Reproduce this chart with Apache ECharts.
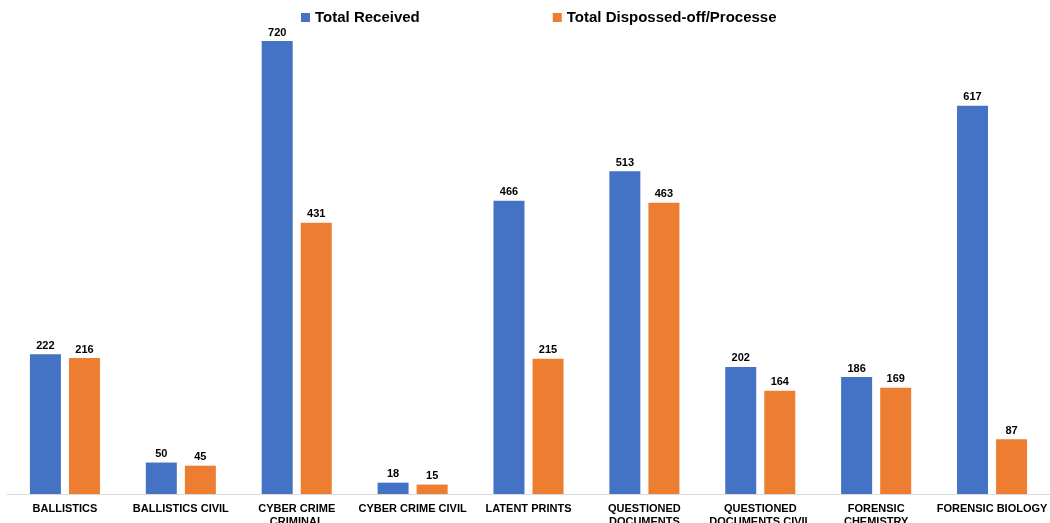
<!DOCTYPE html>
<html>
<head>
<meta charset="utf-8">
<script src="https://cdn.jsdelivr.net/npm/echarts@6/dist/echarts.min.js"></script>
<style>
  html, body { margin: 0; padding: 0; background: #fff; overflow: hidden; }
  #chart { width: 1050px; height: 523px; }
</style>
</head>
<body>
<div id="chart"></div>
<script>
// Categories (line breaks follow the wrapped labels in the reference)
const categories = [
    'BALLISTICS',
    'BALLISTICS CIVIL',
    'CYBER CRIME\nCRIMINAL',
    'CYBER CRIME CIVIL',
    'LATENT PRINTS',
    'QUESTIONED\nDOCUMENTS',
    'QUESTIONED\nDOCUMENTS CIVIL',
    'FORENSIC\nCHEMISTRY',
    'FORENSIC BIOLOGY'
];
const totalReceived = [222, 50, 720, 18, 466, 513, 202, 186, 617];
const totalProcessed = [216, 45, 431, 15, 215, 463, 164, 169, 87];

const font = 'Liberation Sans, Arial, sans-serif';

const labelStyle = {
    show: true,
    position: 'top',
    distance: 3,
    color: '#000',
    fontFamily: font,
    fontWeight: 'bold',
    fontSize: 11
};

const chart = echarts.init(document.getElementById('chart'));
chart.setOption({
    animation: false,
    color: ['#4472C4', '#ED7D31'],
    legend: {
        left: 296,
        top: 5,
        itemGap: 133,
        itemWidth: 9,
        itemHeight: 9,
        icon: 'rect',
        textStyle: { fontFamily: font, fontWeight: 'bold', fontSize: 15, color: '#000' }
    },
    grid: {
        left: 7, right: 0, top: 41, bottom: 29,
        containLabel: false,
        outerBoundsMode: 'none'
    },
    xAxis: {
        type: 'category',
        data: categories,
        axisLine: { lineStyle: { color: '#d9d9d9', width: 1 } },
        axisTick: { show: false },
        axisLabel: {
            interval: 0,
            margin: 8,
            color: '#000',
            fontFamily: font,
            fontWeight: 'bold',
            fontSize: 11,
            lineHeight: 13
        }
    },
    yAxis: {
        type: 'value',
        min: 0,
        max: 720,
        show: false,
        splitLine: { show: false }
    },
    series: [
        {
            name: 'Total Received',
            type: 'bar',
            data: totalReceived,
            barWidth: 31,
            barGap: '26%',
            label: labelStyle
        },
        {
            name: 'Total Dispossed-off/Processe',
            type: 'bar',
            data: totalProcessed,
            barWidth: 31,
            label: labelStyle
        }
    ]
});
</script>
</body>
</html>
